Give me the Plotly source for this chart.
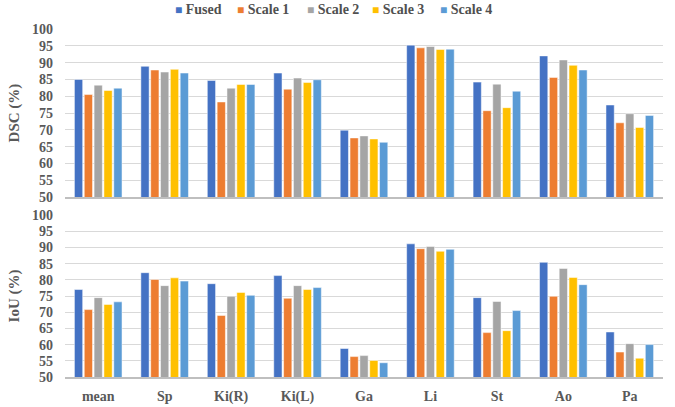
import plotly.graph_objects as go

categories = ["mean", "Sp", "Ki(R)", "Ki(L)", "Ga", "Li", "St", "Ao", "Pa"]
series_names = ["Fused", "Scale 1", "Scale 2", "Scale 3", "Scale 4"]
colors = ["#4472C4", "#ED7D31", "#A5A5A5", "#FFC000", "#5B9BD5"]

dsc_fused = [85.0, 88.9, 84.7, 86.9, 69.9, 95.2, 84.2, 92.0, 77.4]
dsc_scale1 = [80.5, 87.8, 78.3, 82.1, 67.6, 94.4, 75.7, 85.6, 72.1]
dsc_scale2 = [83.3, 87.2, 82.4, 85.4, 68.2, 94.8, 83.6, 90.8, 74.8]
dsc_scale3 = [81.7, 88.0, 83.5, 84.1, 67.3, 93.9, 76.6, 89.2, 70.7]
dsc_scale4 = [82.4, 86.9, 83.5, 84.9, 66.3, 94.0, 81.5, 87.8, 74.3]

iou_fused = [77.0, 82.2, 78.8, 81.3, 58.8, 91.1, 74.5, 85.4, 63.9]
iou_scale1 = [70.8, 80.1, 69.0, 74.3, 56.3, 89.6, 63.7, 74.9, 57.7]
iou_scale2 = [74.5, 78.2, 74.9, 78.2, 56.6, 90.3, 73.3, 83.5, 60.3]
iou_scale3 = [72.4, 80.6, 76.1, 77.0, 55.1, 88.8, 64.3, 80.7, 55.8]
iou_scale4 = [73.2, 79.6, 75.2, 77.6, 54.4, 89.4, 70.5, 78.5, 60.0]

dsc = [dsc_fused, dsc_scale1, dsc_scale2, dsc_scale3, dsc_scale4]
iou = [iou_fused, iou_scale1, iou_scale2, iou_scale3, iou_scale4]

FONT = "Liberation Serif"
GRAY = "#595959"
W, H = 675, 407
ML, MR, MT, MB = 65, 12, 29, 30

fig = go.Figure()
for name, col, d in zip(series_names, colors, dsc):
    fig.add_trace(go.Bar(x=categories, y=d, name=name, marker=dict(color=col, line=dict(color="white", width=0.5)),
                         xaxis="x2", yaxis="y2", legendgroup=name, showlegend=False))
for name, col, d in zip(series_names, colors, iou):
    fig.add_trace(go.Bar(x=categories, y=d, name=name, marker=dict(color=col, line=dict(color="white", width=0.5)),
                         xaxis="x", yaxis="y", legendgroup=name, showlegend=False))

# Excel-style legend: one text entry per series, laid out left to right
legend_px = [173, 235, 305, 370, 438]
plot_w = W - ML - MR
for px, n, c in zip(legend_px, series_names, colors):
    fig.add_annotation(text=f"<span style='color:{c};font-size:12px'>■</span> {n}",
                       xref="paper", yref="paper", x=(px - ML) / plot_w, y=1.0, yshift=20,
                       xanchor="left", yanchor="middle", showarrow=False,
                       font=dict(family=FONT, size=14, color="#505050", weight="bold"))

tickf = dict(family=FONT, size=14, color=GRAY, weight="bold")
yax_common = dict(range=[50, 100], dtick=5, tickfont=tickf, showgrid=True, gridcolor="#D9D9D9",
                  gridwidth=1, zeroline=False, ticks="", showline=False, fixedrange=True,
                  ticklabelstandoff=11)

fig.update_layout(
    width=W, height=H,
    margin=dict(l=ML, r=MR, t=MT, b=MB, autoexpand=False),
    paper_bgcolor="white", plot_bgcolor="white",
    barmode="group", bargap=0.26, bargroupgap=0.16,
    font=dict(family=FONT, color=GRAY),
    showlegend=False,
    xaxis=dict(domain=[0, 1], anchor="y", tickfont=tickf, showline=True, linecolor="#BFBFBF",
               linewidth=2, ticks="", showgrid=False, ticklabelstandoff=5),
    xaxis2=dict(domain=[0, 1], anchor="y2", matches="x", showticklabels=False, showline=True,
                linecolor="#BFBFBF", linewidth=2, ticks="", showgrid=False),
    yaxis=dict(domain=[0, 0.4655], anchor="x",
               title=dict(text="IoU (%)", font=dict(family=FONT, size=15, color=GRAY, weight="bold"), standoff=8),
               **yax_common),
    yaxis2=dict(domain=[0.517, 1], anchor="x2",
                title=dict(text="DSC (%)", font=dict(family=FONT, size=15, color=GRAY, weight="bold"), standoff=8),
                **yax_common),
)

fig.write_html("out.html", config={"displayModeBar": False},
               post_script="document.body.style.margin='0';document.body.style.overflow='hidden';")
